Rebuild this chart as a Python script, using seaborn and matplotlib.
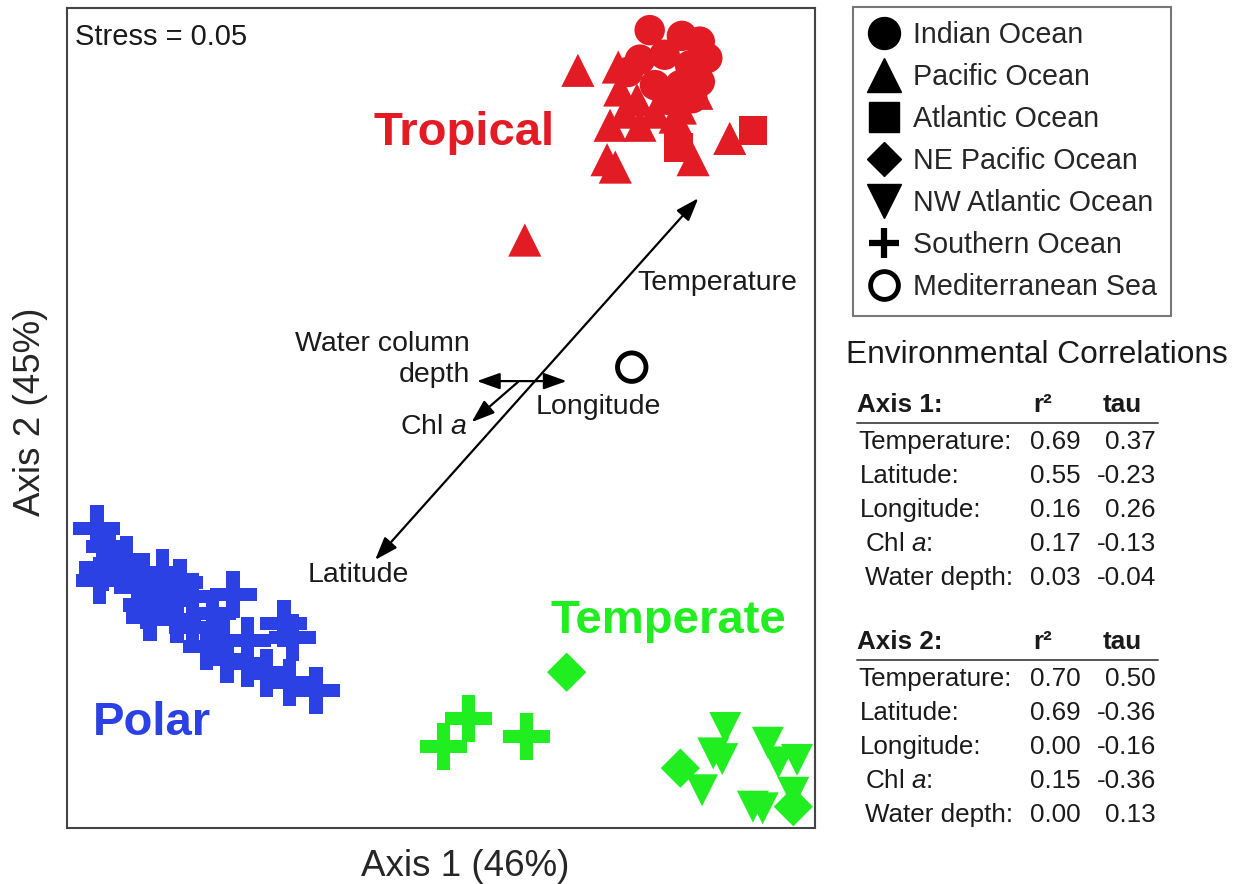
import numpy as np
import pandas as pd
import matplotlib
matplotlib.use("Agg")
import matplotlib.pyplot as plt
import seaborn as sns
from matplotlib.lines import Line2D
from matplotlib.path import Path

# --- NMDS scores (arbitrary units, 0-100 on both axes) ---
indian_x = [77.9, 82.2, 85.6, 76.6, 79.9, 83.3, 78.6, 82.0, 84.6, 80.3, 83.6, 84.6, 75.0]
indian_y = [97.3, 96.6, 93.9, 93.7, 94.3, 93.0, 90.6, 90.6, 91.0, 88.8, 89.0, 95.9, 92.2]

pacific_x = [68.3, 73.7, 72.6, 76.6, 72.2, 73.3, 81.3, 83.7, 88.6, 84.2, 76.2, 73.9, 82.0,
             61.2, 74.6, 78.6]
pacific_y = [92.4, 92.8, 85.7, 85.7, 81.5, 80.6, 86.7, 81.5, 84.1, 89.6, 88.8, 90.0, 87.8,
             71.7, 87.3, 87.3]

atlantic_x = [91.7, 81.7]
atlantic_y = [85.1, 83.0]

polar_x = [4.0, 5.7, 4.3, 4.8, 8.0, 9.4, 12.8, 11.1, 10.7, 13.8, 15.1, 16.8, 14.7,
           16.8, 19.5, 18.7, 20.9, 21.4, 22.2, 24.1, 24.1, 26.7, 29.0, 30.2, 29.8, 33.3]
polar_y = [36.5, 34.3, 30.2, 31.8, 32.7, 29.4, 31.1, 25.7, 27.2, 27.8, 29.9, 28.2, 25.4,
           24.5, 26.2, 22.1, 22.9, 20.5, 28.5, 22.9, 20.1, 18.9, 24.9, 23.2, 17.7, 16.8]

temp_south_x = [53.7, 50.3, 61.4]
temp_south_y = [13.4, 9.9, 11.2]

ne_pacific_x = [66.8, 82.0, 97.1]
ne_pacific_y = [19.0, 7.3, 2.6]

nw_atlantic_x = [88.0, 86.4, 87.6, 84.9, 93.7, 95.1, 97.6, 97.1, 91.7, 93.0]
nw_atlantic_y = [12.2, 9.1, 8.4, 4.6, 10.4, 8.0, 8.3, 4.3, 2.6, 2.4]

med_x = [75.5]
med_y = [56.2]

# environmental vectors (tail -> head)
temp_lat_vec = [(41.2, 32.7), (84.4, 76.8)]
depth_lon_vec = [(54.8, 54.5), (66.8, 54.5)]
chl_vec = [(60.3, 54.4), (54.1, 49.5)]

legend_labels = ["Indian Ocean", "Pacific Ocean", "Atlantic Ocean", "NE Pacific Ocean",
                 "NW Atlantic Ocean", "Southern Ocean", "Mediterranean Sea"]

table_vars = ["Temperature:", "Latitude:", "Longitude:", "Chl $\\mathit{a}$:", "Water depth:"]
axis1_r2 = [0.69, 0.55, 0.16, 0.17, 0.03]
axis1_tau = [0.37, -0.23, 0.26, -0.13, -0.04]
axis2_r2 = [0.70, 0.69, 0.00, 0.15, 0.00]
axis2_tau = [0.50, -0.36, -0.16, -0.36, 0.13]

RED, BLUE, GREEN = "#e21b24", "#2b41e3", "#20ee20"
W, H = 1238, 884


def fpos(x, y):
    # figure pixel -> figure fraction
    return x / W, 1 - y / H


def block(xs, ys, group, ocean):
    return pd.DataFrame({"x": xs, "y": ys, "group": group, "ocean": ocean})


df = pd.concat([
    block(pacific_x, pacific_y, "Tropical", "Pacific"),
    block(atlantic_x, atlantic_y, "Tropical", "Atlantic"),
    block(indian_x, indian_y, "Tropical", "Indian"),
    block(polar_x, polar_y, "Polar", "Southern"),
    block(temp_south_x, temp_south_y, "Temperate", "Southern"),
    block(ne_pacific_x, ne_pacific_y, "Temperate", "NE Pacific"),
    block(nw_atlantic_x, nw_atlantic_y, "Temperate", "NW Atlantic"),
], ignore_index=True)

# filled plus with slimmer arms than matplotlib's 'P'
a = 0.14
plus_marker = Path([(-a, -0.5), (a, -0.5), (a, -a), (0.5, -a), (0.5, a), (a, a), (a, 0.5),
                    (-a, 0.5), (-a, a), (-0.5, a), (-0.5, -a), (-a, -a), (-a, -0.5)], closed=True)

markers = {"Indian": "o", "Pacific": "^", "Atlantic": "s", "Southern": plus_marker,
           "NE Pacific": "D", "NW Atlantic": "v"}
sizes = {"Indian": 480, "Pacific": 570, "Atlantic": 430, "Southern": 1150,
         "NE Pacific": 400, "NW Atlantic": 530}
palette = {"Tropical": RED, "Polar": BLUE, "Temperate": GREEN}

sns.set_style("white")
plt.rcParams["font.family"] = ["Liberation Sans", "DejaVu Sans"]
plt.rcParams["mathtext.fontset"] = "custom"
plt.rcParams["mathtext.rm"] = "Liberation Sans"
plt.rcParams["mathtext.it"] = "Liberation Sans:italic"

fig = plt.figure(figsize=(W / 100, H / 100), dpi=100)
ax = fig.add_axes([67 / W, 1 - 828 / H, 748 / W, 820 / H])

sns.scatterplot(data=df, x="x", y="y", hue="group", style="ocean", size="ocean",
                palette=palette, markers=markers, sizes=sizes, linewidth=0,
                legend=False, ax=ax)
sns.scatterplot(x=med_x, y=med_y, marker="o", s=420, facecolor="none",
                edgecolor="black", linewidth=3.5, ax=ax)

ax.set_xlim(0, 100)
ax.set_ylim(0, 100)
ax.set_xticks([])
ax.set_yticks([])
for sp in ax.spines.values():
    sp.set_color("#444444")
    sp.set_linewidth(1.5)

ax.set_xlabel("Axis 1 (46%)", fontsize=26.5)
ax.set_ylabel("Axis 2 (45%)", fontsize=26.5)
ax.xaxis.set_label_coords(0.532, -0.025)
ax.yaxis.set_label_coords(-0.025, 0.507)

# vectors
arrow_kw = dict(color="black", lw=1.6, shrinkA=0, shrinkB=0, mutation_scale=20)
ax.annotate("", xy=temp_lat_vec[1], xytext=temp_lat_vec[0],
            arrowprops=dict(arrowstyle="<|-|>,head_length=0.7,head_width=0.25", **arrow_kw))
ax.annotate("", xy=depth_lon_vec[1], xytext=depth_lon_vec[0],
            arrowprops=dict(arrowstyle="<|-|>,head_length=0.7,head_width=0.25", **arrow_kw))
ax.annotate("", xy=chl_vec[1], xytext=chl_vec[0],
            arrowprops=dict(arrowstyle="-|>,head_length=0.7,head_width=0.25", **arrow_kw))

lab = dict(fontsize=20.5, color="#1a1a1a")
ax.text(76.3, 66.5, "Temperature", ha="left", va="center", **lab)
ax.text(53.9, 57.1, "Water column\ndepth", ha="right", va="center", multialignment="right",
        linespacing=1.25, **lab)
ax.text(71.0, 51.3, "Longitude", ha="center", va="center", **lab)
ax.text(53.5, 48.9, "Chl $\\mathit{a}$", ha="right", va="center", **lab)
ax.text(38.9, 30.9, "Latitude", ha="center", va="center", **lab)

ax.text(0.011, 0.965, "Stress = 0.05", transform=ax.transAxes, ha="left", va="center",
        fontsize=21, color="#1a1a1a")

grp = dict(fontsize=34, fontweight="bold", va="baseline", ha="left")
ax.text(41.0, 83.3, "Tropical", color=RED, **grp)
ax.text(3.5, 11.3, "Polar", color=BLUE, **grp)
ax.text(64.6, 23.8, "Temperate", color=GREEN, **grp)

# legend of ocean basins
handles = [
    Line2D([], [], ls="", marker="o", ms=23, color="black"),
    Line2D([], [], ls="", marker="^", ms=24, color="black"),
    Line2D([], [], ls="", marker="s", ms=21.5, color="black"),
    Line2D([], [], ls="", marker="D", ms=17, color="black"),
    Line2D([], [], ls="", marker="v", ms=24, color="black"),
    Line2D([], [], ls="", marker="+", ms=22, mew=4.5, color="black"),
    Line2D([], [], ls="", marker="o", ms=20, mfc="none", mec="black", mew=3.5),
]
leg = fig.legend(handles, legend_labels, loc="upper left", bbox_to_anchor=fpos(853, 7),
                 fontsize=20.6, frameon=True, fancybox=False, edgecolor="#555555",
                 borderpad=0.5, handlelength=1.2, handletextpad=0.4, labelspacing=0.49,
                 borderaxespad=0)
leg.get_frame().set_linewidth(1.5)

# environmental correlations table
fig.text(*fpos(846, 355), "Environmental Correlations", fontsize=22.8, va="center",
         ha="left", color="#1a1a1a")

indent = [858, 860, 860, 865, 865]
tab = dict(fontsize=18.7, va="center", color="#1a1a1a")
for title, r2, tau, top in [("Axis 1:", axis1_r2, axis1_tau, 405),
                            ("Axis 2:", axis2_r2, axis2_tau, 642)]:
    fig.text(*fpos(857, top), title, ha="left", fontweight="bold", **tab)
    fig.text(*fpos(1033, top), "r²", ha="left", fontweight="bold", **tab)
    fig.text(*fpos(1103, top), "tau", ha="left", fontweight="bold", **tab)
    fig.add_artist(Line2D([857 / W, 1158 / W], [1 - (top + 18) / H] * 2,
                          color="#555555", lw=1.4))
    for i, name in enumerate(table_vars):
        yy = top + 37 + i * 34
        fig.text(*fpos(indent[i], yy), name, ha="left", **tab)
        fig.text(*fpos(1081, yy), f"{r2[i]:.2f}", ha="right", **tab)
        fig.text(*fpos(1156, yy), f"{tau[i]:.2f}", ha="right", **tab)

fig.savefig("out.png", dpi=100)
